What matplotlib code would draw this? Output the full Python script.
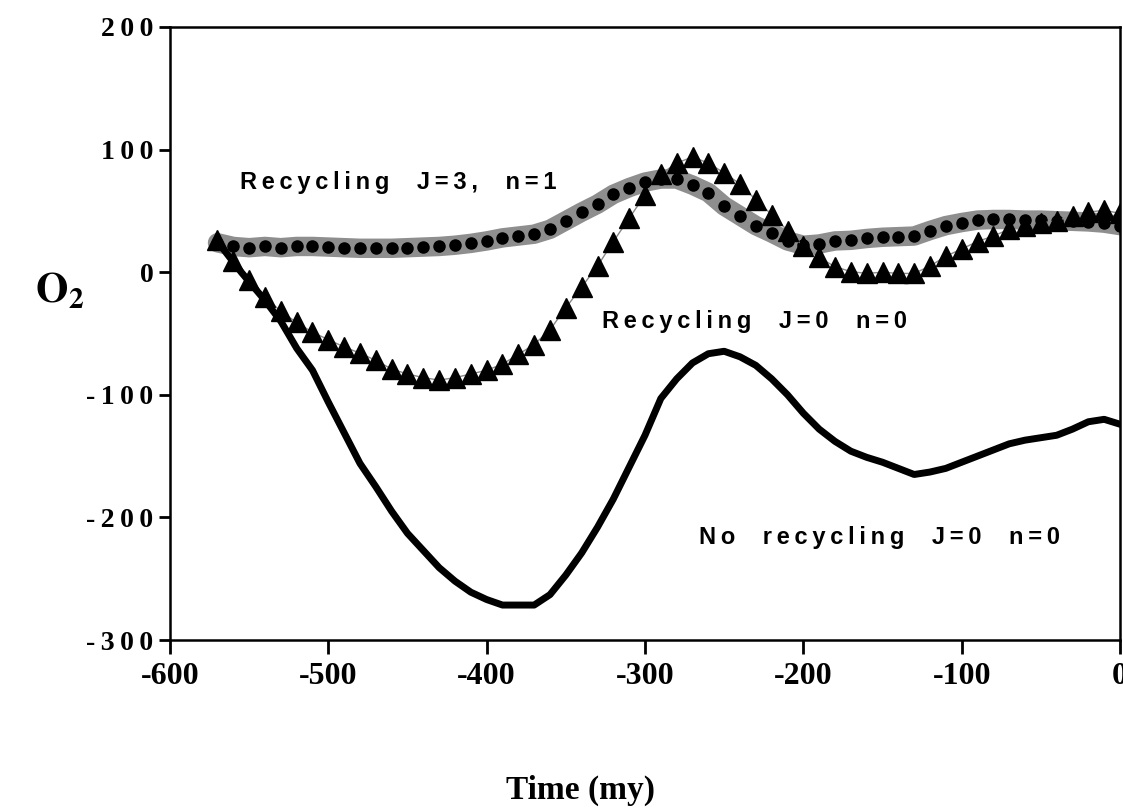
import matplotlib
matplotlib.use("Agg")
import matplotlib.pyplot as plt

# Recycling J=3, n=1 (grey band with dots)
t_j3 = [-570, -560, -550, -540, -530, -520, -510, -500, -490, -480,
        -470, -460, -450, -440, -430, -420, -410, -400, -390, -380,
        -370, -360, -350, -340, -330, -320, -310, -300, -290, -280,
        -270, -260, -250, -240, -230, -220, -210, -200, -190, -180,
        -170, -160, -150, -140, -130, -120, -110, -100, -90, -80,
        -70, -60, -50, -40, -30, -20, -10, 0]
o2_j3 = [24, 21, 20, 21, 20, 21, 21, 20.5, 20, 19.5,
         19.5, 19.5, 20, 20.5, 21, 22, 23.5, 25.5, 28, 29.5,
         31, 35, 42, 49, 55.5, 63.5, 69, 73.5, 76, 76,
         71, 65, 54, 46, 38, 32, 25.5, 22, 23, 25.5,
         26, 27.5, 28.5, 29, 29.5, 34, 38, 40.5, 42.5, 43,
         43, 42.5, 42.5, 42, 41.5, 41, 40, 38]

# Recycling J=0 n=0 (triangles)
t_j0 = t_j3
o2_j0 = [26, 9, -6, -20, -32, -41, -49, -55, -61, -66,
         -72, -79, -83, -86, -88, -86, -83, -80, -75, -67,
         -59, -47, -29, -12, 5, 25, 44, 63, 80, 89,
         94, 89, 81, 72, 59, 47, 34, 21, 12, 4.5,
         0.5, -1, 0, -1, -1, 5, 13, 19, 25, 29.5,
         35, 38, 40, 42, 46, 49, 50.5, 48]

# No recycling J=0 n=0 (solid line)
t_norec = [-570, -555, -540, -530, -520, -510, -500, -490, -480, -470,
           -460, -450, -440, -430, -420, -410, -400, -390, -370, -360,
           -350, -340, -330, -320, -310, -300, -290, -280, -270, -260,
           -250, -240, -230, -220, -210, -200, -190, -180, -170, -160,
           -150, -140, -130, -120, -110, -100, -90, -80, -70, -60,
           -50, -40, -30, -20, -10, 0]
o2_norec = [25, 0, -23, -40, -62, -80, -106, -131, -156, -175,
            -195, -213, -227, -241, -252, -261, -267, -271.5, -271.5, -263,
            -247, -229, -208, -185, -159, -133, -103, -87, -74, -66.5,
            -64.5, -69, -76, -87, -100, -115, -128, -138, -146, -151,
            -155, -160, -165, -163, -160, -155, -150, -145, -140, -137,
            -135, -133, -128, -122, -120, -124]

xticks = [-600, -500, -400, -300, -200, -100, 0]
yticks = [-300, -200, -100, 0, 100, 200]

serif = ["Liberation Serif", "DejaVu Serif"]
sans = ["Liberation Sans", "DejaVu Sans"]


def spaced(s):
    # the original lettering is widely tracked
    return "\u2009".join(s)


fig = plt.figure(figsize=(11.23, 8.09), dpi=100)
ax = fig.add_axes([170 / 1123, 1 - 640 / 809, 950 / 1123, 613 / 809])

ax.plot(t_j3, o2_j3, color="#8e8e8e", lw=14, solid_capstyle="round", zorder=2)
ax.plot(t_j3, o2_j3, "o", color="black", ms=8, zorder=3)
ax.plot(t_j0, o2_j0, "-", color="#888888", lw=1, zorder=4)
ax.plot(t_j0, o2_j0, "^", color="black", ms=15, zorder=5)
ax.plot(t_norec, o2_norec, color="black", lw=5, zorder=4)

ax.set_xlim(-600, 0)
ax.set_ylim(-300, 200)
ax.set_xticks(xticks)
ax.set_yticks(yticks)
ax.set_xticklabels([str(v) for v in xticks], fontfamily=serif, fontweight="bold", fontsize=23)
ax.set_yticklabels([spaced(str(v)) for v in yticks], fontfamily=serif, fontweight="bold", fontsize=20)
ax.tick_params(axis="x", direction="out", length=10, width=2, pad=6)
ax.tick_params(axis="y", direction="out", length=8, width=2, pad=4)
for s in ax.spines.values():
    s.set_linewidth(1.8)

ax.text(-556, 73, spaced("Recycling  J=3,  n=1"), fontfamily=sans, fontweight="bold",
        fontsize=17, va="center", ha="left")
ax.text(-327, -40, spaced("Recycling  J=0  n=0"), fontfamily=sans, fontweight="bold",
        fontsize=17, va="center", ha="left")
ax.text(-266, -216, spaced("No  recycling  J=0  n=0"), fontfamily=sans, fontweight="bold",
        fontsize=17, va="center", ha="left")

plt.rcParams["mathtext.fontset"] = "stix"
fig.text(35 / 1123, 1 - 290 / 809, r"$\mathbf{O_2}$", fontsize=30, va="center", ha="left")
fig.text(580 / 1123, 1 - 790 / 809, "Time (my)", fontfamily=serif, fontweight="bold",
         fontsize=24, va="center", ha="center")

fig.savefig("out.png", dpi=100)
